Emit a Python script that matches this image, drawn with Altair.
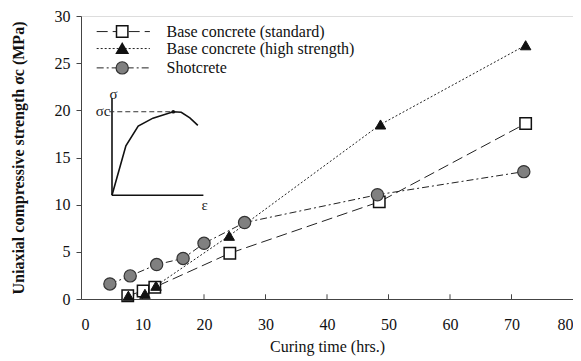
import altair as alt
import pandas as pd

# --- data ---
std_t = [7.6, 10.1, 12.0, 24.2, 48.5, 72.3]
std_s = [0.35, 0.85, 1.25, 4.85, 10.3, 18.6]
hs_t = [7.7, 10.4, 12.2, 24.1, 48.7, 72.3]
hs_s = [0.35, 0.55, 1.4, 6.7, 18.5, 26.9]
sc_t = [4.7, 8.0, 12.3, 16.6, 20.0, 26.6, 48.2, 72.0]
sc_s = [1.6, 2.45, 3.65, 4.3, 5.9, 8.1, 11.05, 13.5]

series_names = ["Base concrete (standard)", "Base concrete (high strength)", "Shotcrete"]

# inset stress-strain sketch (in data units of the main chart)
inset_x = [5.04, 7.3, 9.3, 11.7, 15.0, 16.3, 17.7, 19.0]
inset_y = [11.0, 16.25, 18.33, 19.17, 19.85, 19.8, 19.2, 18.4]

x_ticks = [0, 10, 20, 30, 40, 50, 60, 70, 80]
y_ticks = [0, 5, 10, 15, 20, 25, 30]

FONT = "Liberation Serif, Times New Roman, DejaVu Serif, serif"
W, H = 492, 283

xs = alt.Scale(domain=[0, 80], nice=False)
ys = alt.Scale(domain=[0, 30], nice=False)

std = pd.DataFrame({"t": std_t, "s": std_s})
hs = pd.DataFrame({"t": hs_t, "s": hs_s})
sc = pd.DataFrame({"t": sc_t, "s": sc_s})

X = alt.X("t:Q", scale=xs,
          axis=alt.Axis(values=x_ticks, title="Curing time (hrs.)", grid=False, tickSize=0,
                        labelPadding=17, titlePadding=6, labelFont=FONT, labelFontSize=16,
                        titleFont=FONT, titleFontSize=16, titleFontWeight="normal",
                        labelColor="#111", titleColor="#111", domainColor="#444"))
Y = alt.Y("s:Q", scale=ys,
          axis=alt.Axis(values=y_ticks, title="Uniaxial compressive strength  σc (MPa)", grid=False,
                        tickSize=5, labelPadding=6, titlePadding=28, labelFont=FONT,
                        labelFontSize=16, titleFont=FONT, titleFontSize=16,
                        titleFontWeight="bold", labelColor="#111", titleColor="#111",
                        domainColor="#444", tickColor="#444"))

dash_std = [11, 5]
dash_hs = [2, 2]
dash_sc = [7, 3, 2, 3]

line_std = alt.Chart(std).mark_line(color="#222", strokeWidth=1, strokeDash=dash_std).encode(x=X, y=Y)
line_hs = alt.Chart(hs).mark_line(color="#222", strokeWidth=1, strokeDash=dash_hs).encode(x=X, y=Y)
line_sc = alt.Chart(sc).mark_line(color="#222", strokeWidth=1, strokeDash=dash_sc).encode(x=X, y=Y)

pt_std = alt.Chart(std).mark_point(shape="square", filled=True, fill="white", stroke="#111",
                                    strokeWidth=1.5, size=130, opacity=1).encode(x=X, y=Y)
pt_hs = alt.Chart(hs).mark_point(shape="triangle-up", filled=True, fill="#111", stroke="#111",
                                  strokeWidth=1, size=110, opacity=1).encode(x=X, y=Y)
pt_sc = alt.Chart(sc).mark_point(shape="circle", filled=True, fill="#808080", stroke="#333",
                                  strokeWidth=1.2, size=150, opacity=1).encode(x=X, y=Y)

# inward x ticks
tick_df = pd.DataFrame({"t": x_ticks[1:-1], "s": [0] * 7, "s2": [0.5] * 7})
xticks = alt.Chart(tick_df).mark_rule(color="#444", strokeWidth=1).encode(
    x=alt.X("t:Q", scale=xs), y=alt.Y("s:Q", scale=ys), y2="s2:Q")

# legend (drawn inside the plot)
leg_y = [28.35, 26.55, 24.5]
leg_line_x0, leg_line_x1, leg_mark_x, leg_text_x = 2.55, 11.2, 6.7, 13.9
leg_lines = []
for yy, dash in zip(leg_y, [dash_std, dash_hs, dash_sc]):
    d = pd.DataFrame({"a": [leg_line_x0], "b": [leg_line_x1], "y": [yy]})
    leg_lines.append(alt.Chart(d).mark_rule(color="#222", strokeWidth=1, strokeDash=dash).encode(
        x=alt.X("a:Q", scale=xs), x2="b:Q", y=alt.Y("y:Q", scale=ys)))
leg_m1 = alt.Chart(pd.DataFrame({"a": [leg_mark_x], "y": [leg_y[0]]})).mark_point(
    shape="square", filled=True, fill="white", stroke="#111", strokeWidth=1.5, size=130, opacity=1
).encode(x=alt.X("a:Q", scale=xs), y=alt.Y("y:Q", scale=ys))
leg_m2 = alt.Chart(pd.DataFrame({"a": [leg_mark_x], "y": [leg_y[1]]})).mark_point(
    shape="triangle-up", filled=True, fill="#111", stroke="#111", size=110, opacity=1
).encode(x=alt.X("a:Q", scale=xs), y=alt.Y("y:Q", scale=ys))
leg_m3 = alt.Chart(pd.DataFrame({"a": [leg_mark_x], "y": [leg_y[2]]})).mark_point(
    shape="circle", filled=True, fill="#808080", stroke="#333", strokeWidth=1.2, size=150, opacity=1
).encode(x=alt.X("a:Q", scale=xs), y=alt.Y("y:Q", scale=ys))
leg_text = alt.Chart(pd.DataFrame({"a": [leg_text_x] * 3, "y": leg_y, "n": series_names})).mark_text(
    align="left", baseline="middle", font=FONT, fontSize=16, color="#111"
).encode(x=alt.X("a:Q", scale=xs), y=alt.Y("y:Q", scale=ys), text="n:N")

# inset
inset_df = pd.DataFrame({"t": inset_x, "s": inset_y, "o": list(range(len(inset_x)))})
inset_curve = alt.Chart(inset_df).mark_line(color="#111", strokeWidth=1.6).encode(
    x=alt.X("t:Q", scale=xs), y=alt.Y("s:Q", scale=ys), order="o:Q")
inset_axes = alt.Chart(pd.DataFrame({"a": [5.04, 5.04], "b": [5.04, 19.9],
                                     "y": [11.0, 11.0], "y2": [21.3, 11.0]})).mark_rule(
    color="#111", strokeWidth=1.6).encode(x=alt.X("a:Q", scale=xs), x2="b:Q",
                                           y=alt.Y("y:Q", scale=ys), y2="y2:Q")
inset_dash = alt.Chart(pd.DataFrame({"a": [4.6], "b": [15.0], "y": [19.85]})).mark_rule(
    color="#333", strokeWidth=1, strokeDash=[5, 3]).encode(
    x=alt.X("a:Q", scale=xs), x2="b:Q", y=alt.Y("y:Q", scale=ys))
inset_peak = alt.Chart(pd.DataFrame({"a": [15.0], "y": [19.85]})).mark_point(
    shape="circle", filled=True, fill="#111", size=14, opacity=1).encode(
    x=alt.X("a:Q", scale=xs), y=alt.Y("y:Q", scale=ys))
inset_text = alt.Chart(pd.DataFrame({"a": [5.3, 3.6, 20.1], "y": [21.7, 19.95, 10.0],
                                     "l": ["σ", "σc", "ε"]})).mark_text(
    font=FONT, fontSize=15, color="#222", baseline="middle", align="center").encode(
    x=alt.X("a:Q", scale=xs), y=alt.Y("y:Q", scale=ys), text="l:N")

chart = alt.layer(
    xticks, inset_axes, inset_dash, inset_curve, inset_peak, inset_text,
    line_std, line_hs, line_sc, pt_std, pt_hs, pt_sc,
    *leg_lines, leg_m1, leg_m2, leg_m3, leg_text,
).properties(
    width=W, height=H,
    autosize=alt.AutoSizeParams(type="none"),
    padding={"left": 73, "top": 8, "right": 0, "bottom": 60},
).configure_view(stroke="#444", strokeWidth=1).configure(background="white")

chart.save("out.html", embed_options={"renderer": "svg", "actions": False})
